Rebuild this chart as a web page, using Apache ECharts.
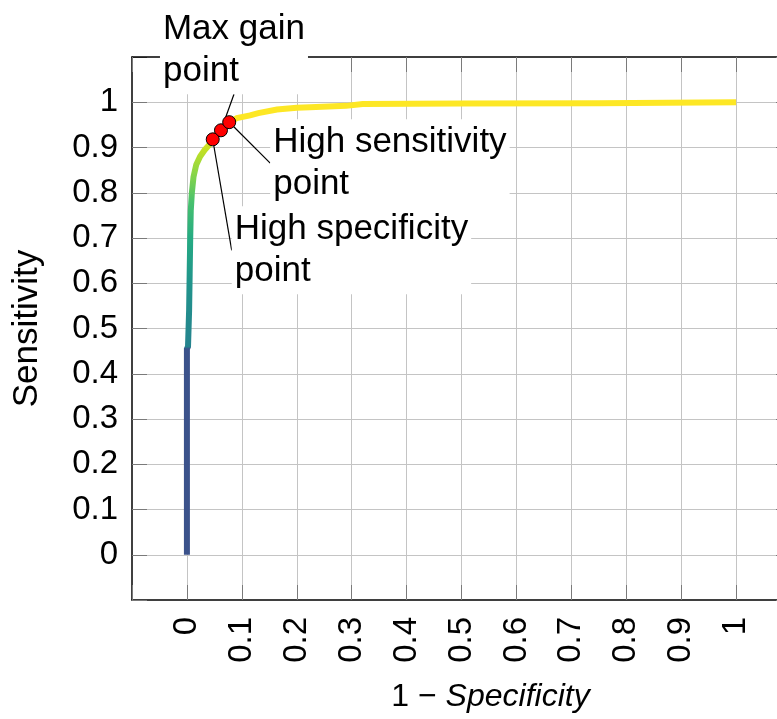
<!DOCTYPE html>
<html><head><meta charset="utf-8">
<script src="https://cdn.jsdelivr.net/npm/echarts@6/dist/echarts.min.js"></script>
<style>html,body{margin:0;padding:0;background:#fff}#c{width:777px;height:719px}</style>
</head><body><div id="c"></div>
<script>
// ROC curve (1 - specificity, sensitivity)
const fpr = [0, 0, 0.002, 0.004, 0.005, 0.006, 0.007, 0.009, 0.012, 0.017, 0.024, 0.032, 0.040, 0.047, 0.055, 0.062, 0.070, 0.077, 0.091, 0.115, 0.130, 0.164, 0.200, 0.224, 0.290, 0.320, 0.500, 0.750, 1.000];
const tpr = [0, 0.455, 0.460, 0.540, 0.620, 0.700, 0.760, 0.800, 0.835, 0.862, 0.880, 0.894, 0.905, 0.918, 0.930, 0.938, 0.948, 0.956, 0.965, 0.971, 0.976, 0.984, 0.988, 0.989, 0.992, 0.996, 0.997, 0.998, 1.000];
// Highlighted points
const pointNames = ['Max gain\npoint', 'High sensitivity\npoint', 'High specificity\npoint'];
const pointFpr = [0.062, 0.077, 0.047];
const pointTpr = [0.938, 0.956, 0.918];
// Tick labels
const xTickLabels = ['0', '0.1', '0.2', '0.3', '0.4', '0.5', '0.6', '0.7', '0.8', '0.9', '1'];
const yTickLabels = ['0', '0.1', '0.2', '0.3', '0.4', '0.5', '0.6', '0.7', '0.8', '0.9', '1'];

const FONT = 'Liberation Sans';
// label offsets (pixels) relative to each point: left edge / vertical centre
const labelOffsets = [[-61, -80], [41, 41], [19, 111]];

const colorStops = [[0,'#3b528b'],[0.455,'#3b528b'],[0.458,'#25838e'],[0.6,'#21948c'],[0.7,'#25ab82'],[0.78,'#48c16e'],[0.84,'#86d549'],[0.89,'#bddf26'],[0.93,'#f0e51c'],[0.95,'#fde725'],[1,'#fde725']];
function hex(c){return [parseInt(c.slice(1,3),16),parseInt(c.slice(3,5),16),parseInt(c.slice(5,7),16)];}
function buildColors(n){
  const out=[];
  for(let i=0;i<=n;i++){
    const v=i/n; let k=0;
    while(k<colorStops.length-2 && v>colorStops[k+1][0]) k++;
    const [a,ca]=colorStops[k],[b,cb]=colorStops[k+1];
    const t=b>a?Math.min(1,Math.max(0,(v-a)/(b-a))):0;
    const A=hex(ca),B=hex(cb);
    out.push('rgb('+A.map((x,j)=>Math.round(x+(B[j]-x)*t)).join(',')+')');
  }
  return out;
}
function tickFmt(labels){return v=>{const i=Math.round(v*10);return (i>=0&&i<labels.length&&Math.abs(v*10-i)<1e-6)?labels[i]:'';};}

const axisCommon = {
  type:'value', min:-0.1, max:1.1, interval:0.1,
  axisLine:{show:true, onZero:false, lineStyle:{color:'#000', width:1.5}},
  axisTick:{show:true, inside:true, length:15, lineStyle:{color:'#7a7a7a', width:1}},
};
const gridLine = {show:true, showMinLine:false, showMaxLine:false, lineStyle:{color:'#c4c4c4', width:1}};

const chart = echarts.init(document.getElementById('c'), null, {renderer:'canvas'});
chart.setOption({
  animation:false,
  backgroundColor:'#fff',
  grid:{left:132, right:-14, top:57, bottom:119, containLabel:false, outerBoundsMode:'none'},
  xAxis:[
    Object.assign({}, axisCommon, {
      position:'bottom', z:1,
      name:'{a|1 − }{b|Specificity}', nameLocation:'middle', nameGap:81,
      nameTextStyle:{fontFamily:FONT, fontSize:32, color:'#000', padding:[0,0,0,58],
        rich:{a:{fontFamily:FONT, fontSize:32, color:'#000'}, b:{fontFamily:FONT, fontSize:32, fontStyle:'italic', color:'#000'}}},
      axisLabel:{show:true, rotate:90, margin:17, fontFamily:FONT, fontSize:33, color:'#000', formatter:tickFmt(xTickLabels)},
      splitLine:gridLine
    }),
    Object.assign({}, axisCommon, {position:'top', z:2, axisLabel:{show:false}, splitLine:{show:false}})
  ],
  yAxis:[
    Object.assign({}, axisCommon, {
      position:'left', z:1,
      name:'Sensitivity', nameLocation:'middle', nameGap:87,
      nameTextStyle:{fontFamily:FONT, fontSize:35, color:'#000'},
      axisLabel:{show:true, margin:14, fontFamily:FONT, fontSize:33, color:'#000', formatter:tickFmt(yTickLabels)},
      splitLine:gridLine
    }),
    Object.assign({}, axisCommon, {position:'right', z:2, axisLabel:{show:false}, splitLine:{show:false}})
  ],
  visualMap:{type:'continuous', show:false, seriesIndex:0, dimension:1, min:0, max:1, inRange:{color:buildColors(400)}},
  series:[
    {
      type:'line', xAxisIndex:0, yAxisIndex:0,
      data:fpr.map((x,i)=>[x,tpr[i]]),
      showSymbol:false, symbol:'none',
      lineStyle:{width:6, cap:'butt', join:'miter'},
      z:3
    },
    {
      type:'scatter', xAxisIndex:0, yAxisIndex:0,
      data:pointNames.map((n,i)=>({name:n, value:[pointFpr[i], pointTpr[i]]})),
      symbol:'circle', symbolSize:13,
      itemStyle:{color:'#ff0000', borderColor:'#000', borderWidth:1, opacity:1},
      label:{show:true, position:'inside', align:'left', verticalAlign:'middle', formatter:'{b}',
        fontFamily:FONT, fontSize:35, lineHeight:42, color:'#000', backgroundColor:'#fff', padding:[2,3,2,3]},
      labelLine:{show:true, length2:0, lineStyle:{color:'#000', width:1.2}},
      labelLayout:function(p){const o=labelOffsets[p.dataIndex];return {dx:o[0], dy:o[1], hideOverlap:false};},
      z:5
    }
  ]
});
</script></body></html>
